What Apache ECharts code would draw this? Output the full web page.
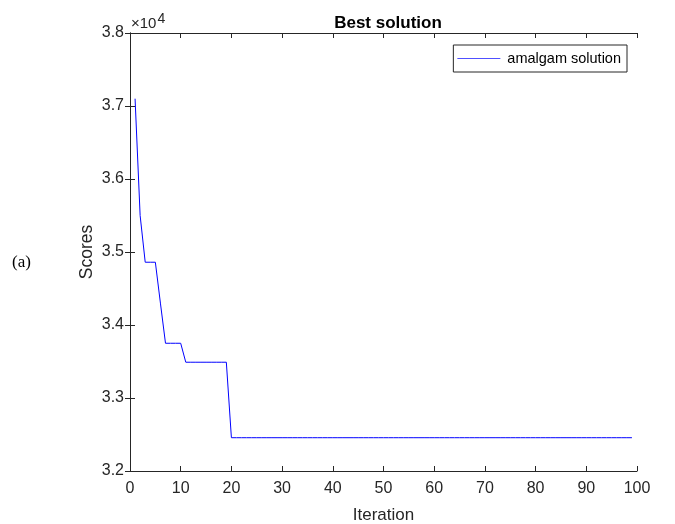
<!DOCTYPE html>
<html>
<head>
<meta charset="UTF-8">
<title>Best solution</title>
<script src="https://cdn.jsdelivr.net/npm/echarts@6/dist/echarts.min.js"></script>
<style>
  html, body { margin: 0; padding: 0; background: #fff; }
  #main { width: 675px; height: 524px; }
</style>
</head>
<body>
<div id="main"></div>
<script type="text/javascript">
// best score per iteration, in units of 10^4
var scores = [
    3.710, 3.550, 3.486, 3.486, 3.486, 3.430, 3.375, 3.375, 3.375, 3.375,
    3.349, 3.349, 3.349, 3.349, 3.349, 3.349, 3.349, 3.349, 3.349, 3.2456,
    3.2456, 3.2456, 3.2456, 3.2456, 3.2456, 3.2456, 3.2456, 3.2456, 3.2456, 3.2456,
    3.2456, 3.2456, 3.2456, 3.2456, 3.2456, 3.2456, 3.2456, 3.2456, 3.2456, 3.2456,
    3.2456, 3.2456, 3.2456, 3.2456, 3.2456, 3.2456, 3.2456, 3.2456, 3.2456, 3.2456,
    3.2456, 3.2456, 3.2456, 3.2456, 3.2456, 3.2456, 3.2456, 3.2456, 3.2456, 3.2456,
    3.2456, 3.2456, 3.2456, 3.2456, 3.2456, 3.2456, 3.2456, 3.2456, 3.2456, 3.2456,
    3.2456, 3.2456, 3.2456, 3.2456, 3.2456, 3.2456, 3.2456, 3.2456, 3.2456, 3.2456,
    3.2456, 3.2456, 3.2456, 3.2456, 3.2456, 3.2456, 3.2456, 3.2456, 3.2456, 3.2456,
    3.2456, 3.2456, 3.2456, 3.2456, 3.2456, 3.2456, 3.2456, 3.2456, 3.2456
];
var seriesName = 'amalgam solution';
var xRange = [0, 100];
var yRange = [3.2, 3.8];

var points = scores.map(function (v, i) { return [i + 1, v]; });

var font = 'Liberation Sans, Arial, Helvetica, sans-serif';
var ink = '#262626';

var myChart = echarts.init(document.getElementById('main'));
myChart.setOption({
    animation: false,
    title: {
        text: 'Best solution',
        left: 383, top: 10, textAlign: 'center',
        textStyle: { fontFamily: font, fontSize: 17, fontWeight: 'bold', color: '#000' }
    },
    legend: {
        data: [seriesName],
        right: 48, top: 45,
        itemWidth: 43, itemHeight: 1, itemGap: 0,
        padding: [6, 6, 6, 4],
        borderColor: '#262626', borderWidth: 1, borderRadius: 0,
        icon: 'rect',
        textStyle: { fontFamily: font, fontSize: 14.5, color: '#000', padding: [0, 0, 0, 2] }
    },
    grid: { left: 130, right: 38, top: 33, bottom: 53, outerBoundsMode: 'none', containLabel: false },
    graphic: [
        {
            type: 'text', left: 131, top: 12,
            style: {
                text: '×10{s|4}',
                rich: { s: { fontSize: 14, verticalAlign: 'top', padding: [0, 0, 9, 1], fill: ink, fontFamily: font } },
                fontFamily: font, fontSize: 15, fill: ink
            }
        },
        {
            type: 'text', left: 12, top: 254,
            style: { text: '(a)', fontFamily: 'Liberation Serif, Times New Roman, serif', fontSize: 17, fill: '#000' }
        }
    ],
    xAxis: [
        {
            type: 'value', min: xRange[0], max: xRange[1], interval: 10,
            name: 'Iteration', nameLocation: 'middle', nameGap: 36,
            nameTextStyle: { fontFamily: font, fontSize: 17, color: ink },
            axisLine: { lineStyle: { color: ink, width: 1 } },
            axisTick: { inside: true, length: 5, lineStyle: { color: ink } },
            axisLabel: { fontFamily: font, fontSize: 16, color: ink, margin: 10 },
            splitLine: { show: false }
        },
        {
            type: 'value', position: 'top', min: xRange[0], max: xRange[1], interval: 10,
            axisLine: { lineStyle: { color: ink, width: 1 } },
            axisTick: { inside: true, length: 5, lineStyle: { color: ink } },
            axisLabel: { show: false },
            splitLine: { show: false }
        }
    ],
    yAxis: [
        {
            type: 'value', min: yRange[0], max: yRange[1], interval: 0.1,
            name: 'Scores', nameLocation: 'middle', nameGap: 34, nameRotate: 90,
            nameMoveOverlap: false,
            nameTextStyle: { fontFamily: font, fontSize: 17.5, color: ink },
            axisLine: { show: true, lineStyle: { color: ink, width: 1 } },
            axisTick: { show: true, inside: true, length: 5, lineStyle: { color: ink } },
            axisLabel: {
                fontFamily: font, fontSize: 16, color: ink, margin: 6,
                formatter: function (v) { return v.toFixed(1); }
            },
            splitLine: { show: false }
        },
        {
            type: 'value', position: 'right', min: yRange[0], max: yRange[1], interval: 0.1,
            axisLine: { show: true, lineStyle: { color: ink, width: 1 } },
            axisTick: { show: true, inside: true, length: 5, lineStyle: { color: ink } },
            axisLabel: { show: false },
            splitLine: { show: false }
        }
    ],
    series: [
        {
            name: seriesName,
            type: 'line',
            data: points,
            showSymbol: false,
            symbol: 'none',
            lineStyle: { color: '#0000ff', width: 1 },
            itemStyle: { color: '#5050ff' }
        }
    ]
});
</script>
</body>
</html>
